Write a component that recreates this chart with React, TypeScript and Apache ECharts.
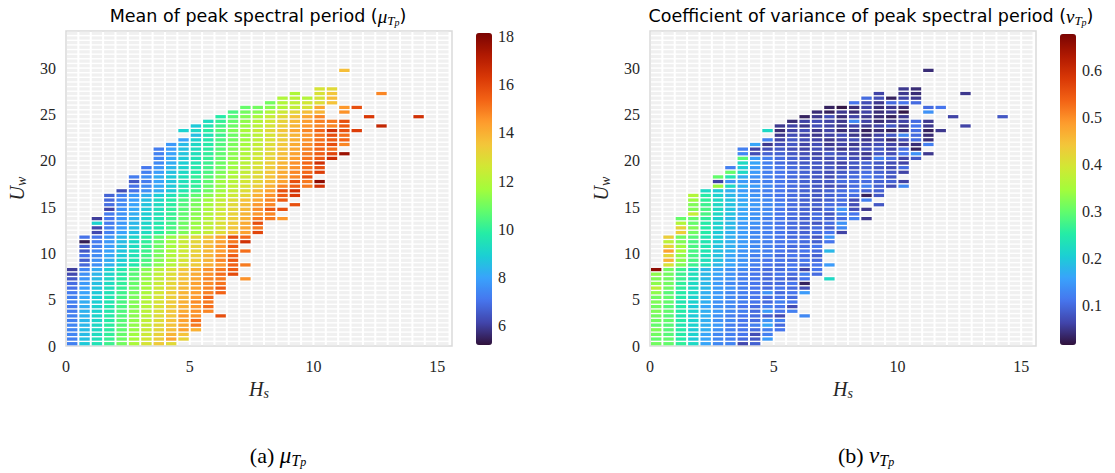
import React, { useEffect, useRef } from "react";
import * as echarts from "echarts";

// ---- binning of the (Hs, Uw) plane ----
const HS_BIN = 0.5;
const UW_BIN = 0.5;
const N_HS_BINS = 31;
const N_UW_BINS = 68;

// first occupied Hs-bin index for every Uw row (row j = Uw bin j)
const rowStart: number[] = [
  0, 0, 0, 0, 0, 0, 0, 0, 0, 0, 0, 0, 0, 0, 0, 0, 0,
  1, 1, 1, 1, 1, 1, 1,
  2, 2, 2, 2,
  3, 3, 3, 3, 3,
  4,
  5, 5, 5,
  6, 6,
  7, 7, 7, 7,
  8, 9, 10, 9, 10, 11, 12, 13, 14, 16, 17, 18, 20,
  0, 0, 0,
  22,
];

// mean of peak spectral period, one array per Uw row (null = empty bin)
const muRows: (number | null)[][] = [
  [7.3, 8.8, 9.5, 10.2, 11.0, 11.8, 12.7, 13.4, 13.0],
  [7.3, 8.6, 9.4, 10.1, 10.9, 11.7, 12.6, 13.3, 14.2, 13.2],
  [7.4, 8.5, 9.3, 10.0, 10.8, 11.6, 12.5, 13.2, 13.9, 13.6],
  [7.4, 8.5, 9.2, 9.9, 10.7, 11.5, 12.4, 13.1, 13.7, 14.3, 14.0],
  [7.4, 8.4, 9.2, 9.9, 10.6, 11.4, 12.3, 13.0, 13.6, 14.2, 15.0],
  [7.3, 8.4, 9.1, 9.8, 10.6, 11.4, 12.2, 12.9, 13.6, 14.3, 15.2],
  [7.3, 8.3, 9.1, 9.8, 10.5, 11.3, 12.1, 12.9, 13.5, 14.4, 14.6, null, 15.8],
  [7.2, 8.3, 9.0, 9.7, 10.5, 11.3, 12.1, 12.8, 13.5, 14.1, 14.6, 14.8],
  [7.2, 8.2, 9.0, 9.7, 10.4, 11.2, 12.0, 12.8, 13.4, 14.0, 14.5, 15.2],
  [7.3, 8.2, 8.9, 9.6, 10.4, 11.2, 12.0, 12.7, 13.4, 14.0, 14.7, 15.0],
  [7.3, 8.1, 8.9, 9.6, 10.3, 11.1, 11.9, 12.7, 13.3, 13.9, 14.5, 15.3],
  [7.2, 8.0, 8.8, 9.5, 10.2, 11.0, 11.8, 12.6, 13.3, 13.9, 14.4, 14.9, 15.4],
  [7.0, 7.9, 8.7, 9.4, 10.1, 10.9, 11.7, 12.5, 13.2, 13.8, 14.3, 14.8, 15.5],
  [6.9, 7.8, 8.6, 9.3, 10.0, 10.8, 11.6, 12.4, 13.1, 13.7, 14.3, 14.7, 15.1],
  [6.5, 7.7, 8.5, 9.2, 9.9, 10.7, 11.5, 12.3, 13.0, 13.6, 14.2, 14.8, 15.0, null, 14.6],
  [6.2, 7.6, 8.4, 9.1, 9.8, 10.6, 11.4, 12.2, 12.9, 13.6, 14.1, 14.6, 15.2, 15.9],
  [6.0, 7.4, 8.2, 9.0, 9.7, 10.5, 11.3, 12.1, 12.8, 13.5, 14.0, 14.6, 15.0, 15.5],
  [6.8, 7.6, 8.3, 9.0, 9.7, 10.5, 11.3, 12.0, 12.8, 13.4, 14.0, 14.5, 15.4, 15.0],
  [6.6, 7.6, 8.2, 8.9, 9.6, 10.4, 11.2, 11.9, 12.7, 13.4, 13.9, 14.8, 15.6],
  [7.0, 7.5, 8.1, 8.8, 9.5, 10.3, 11.1, 11.9, 12.6, 13.3, 13.9, 14.6, 15.5],
  [6.5, 7.4, 8.0, 8.7, 9.4, 10.2, 11.0, 11.8, 12.5, 13.2, 13.8, 14.4, 15.0, 15.2],
  [6.6, 7.3, 7.9, 8.6, 9.3, 10.1, 10.9, 11.7, 12.5, 13.2, 13.8, 14.5, 15.6],
  [5.4, 7.2, 7.8, 8.5, 9.2, 10.0, 10.8, 11.6, 12.4, 13.1, 13.7, 14.3, 15.0, 16.5],
  [7.0, 7.1, 7.7, 8.4, 9.1, 9.9, 10.7, 11.5, 12.3, 13.0, 13.6, 14.3, 15.8, 15.3],
  [6.2, 7.3, 8.0, 8.6, 9.3, 9.9, 10.5, 11.1, 11.7, 12.3, 12.9, 13.6, 14.3, 16.0],
  [6.2, 7.3, 7.9, 8.5, 9.2, 9.8, 10.4, 11.0, 11.6, 12.2, 12.8, 13.5, 14.2, 15.0],
  [9.0, 7.2, 7.8, 8.4, 9.1, 9.7, 10.3, 10.9, 11.5, 12.1, 12.8, 13.4, 14.1, 15.8],
  [6.0, 7.1, 7.7, 8.3, 9.0, 9.6, 10.2, 10.8, 11.4, 12.0, 12.7, 13.3, 14.0, 15.0, 15.0, 14.5],
  [7.2, 7.7, 8.2, 8.9, 9.5, 10.1, 10.7, 11.3, 11.9, 12.6, 13.2, 13.9, 14.5, 14.8],
  [6.1, 7.6, 8.1, 8.8, 9.4, 10.0, 10.6, 11.2, 11.8, 12.5, 13.1, 13.8, 14.7, 15.6, 15.8],
  [6.9, 7.5, 8.0, 8.7, 9.3, 9.9, 10.5, 11.1, 11.7, 12.4, 13.0, 13.7, 14.5, 14.8, null, 15.8],
  [6.8, 7.4, 7.9, 8.6, 9.2, 9.8, 10.4, 11.0, 11.6, 12.3, 12.9, 13.6, 14.2, 14.8, 15.6],
  [6.7, 7.3, 7.8, 8.3, 8.9, 9.5, 10.1, 10.7, 11.3, 11.9, 12.5, 13.1, 14.0, 14.6, 15.5, 16.3],
  [6.3, 7.0, 7.6, 8.2, 8.8, 9.6, 10.2, 10.9, 11.6, 12.3, 12.9, 13.8, 14.3, 15.8, 16.5],
  [7.0, 7.5, 8.1, 8.8, 9.5, 10.0, 10.8, 11.5, 12.2, 12.8, 13.3, 14.0, 14.8, 15.5, 15.0, 16.5],
  [6.5, 7.2, 8.0, 8.7, 9.4, 10.0, 10.7, 11.6, 12.0, 12.6, 13.1, 13.7, 14.3, 15.8, 15.0, 17.8],
  [7.2, 7.6, 8.2, 8.8, 9.4, 10.0, 10.6, 11.3, 11.9, 12.5, 13.0, 13.6, 14.2, 14.8, 15.8],
  [7.3, 7.9, 8.6, 9.2, 9.8, 10.4, 11.1, 11.7, 12.3, 12.9, 13.5, 14.1, 14.8, 15.3, 16.2],
  [7.1, 7.7, 8.4, 9.0, 9.7, 10.3, 11.0, 11.6, 12.2, 12.8, 13.4, 14.0, 14.6, 15.2, 15.8],
  [7.5, 8.2, 8.9, 9.6, 10.2, 10.9, 11.5, 12.1, 12.7, 13.3, 13.9, 14.6, 15.3, 16.5],
  [7.4, 8.1, 8.8, 9.5, 10.1, 10.8, 11.4, 12.0, 12.6, 13.2, 13.8, 14.4, 15.1, 15.6, 16.6],
  [7.3, 8.0, 8.7, 9.4, 10.0, 10.7, 11.3, 11.9, 12.5, 13.1, 13.7, 14.3, 15.0, 15.5, 16.0, 17.6],
  [7.2, 7.9, 8.6, 9.3, 9.9, 10.6, 11.2, 11.8, 12.4, 13.0, 13.6, 14.2, 14.8, 15.4, 15.2],
  [7.8, 8.5, 9.2, 9.8, 10.5, 11.1, 11.7, 12.3, 12.9, 13.5, 14.1, 14.7, 15.3, 15.8, 14.8],
  [8.0, 9.0, 9.7, 10.4, 11.0, 11.6, 12.2, 12.8, 13.4, 14.0, 14.6, 15.2, 15.6, 15.4],
  [8.6, 9.5, 10.2, 10.9, 11.5, 12.1, 12.7, 13.3, 13.9, 14.5, 15.1, 15.8, 15.2],
  [9.0, 9.2, 9.9, 10.6, 11.2, 11.8, 12.4, 13.0, 13.6, 14.2, 14.8, 15.4, 16.5, 15.8, 16.2],
  [8.8, 9.6, 10.3, 10.9, 11.5, 12.1, 12.7, 13.3, 13.9, 14.5, 14.8, 14.8, 15.6, null, null, 16.8],
  [9.3, 10.1, 10.8, 11.4, 12.0, 12.6, 13.2, 13.8, 14.4, 14.9, 15.0, 15.8],
  [9.8, 10.6, 11.2, 11.8, 12.4, 13.0, 13.6, 14.2, 14.8, null, null, null, 16.3, null, null, null, 16.5],
  [10.4, 11.0, 11.3, 11.9, 12.5, 13.1, 13.7, 13.9, null, 14.6],
  [10.8, 11.0, 11.3, 11.9, 12.3, 12.7, 14.2, null, 14.5, 15.8],
  [11.0, 11.9, 12.2, 12.6, 12.9, 13.6],
  [11.9, 12.1, 12.0, 12.7, 13.7],
  [11.9, null, 12.8, 13.5, null, null, null, 14.8],
  [12.7, 13.0],
  [],
  [],
  [],
  [13.7],
];

// coefficient of variance of peak spectral period, same bins
const nuRows: (number | null)[][] = [
  [0.31, 0.30, 0.26, 0.22, 0.16, 0.13, 0.125, 0.065, 0.09],
  [0.30, 0.30, 0.25, 0.20, 0.16, 0.13, 0.12, 0.10, 0.08, 0.15],
  [0.31, 0.29, 0.25, 0.21, 0.16, 0.13, 0.12, 0.11, 0.07, 0.12],
  [0.32, 0.29, 0.25, 0.20, 0.17, 0.14, 0.12, 0.11, 0.10, 0.12, 0.11],
  [0.30, 0.29, 0.24, 0.21, 0.17, 0.15, 0.12, 0.11, 0.12, 0.16, 0.10],
  [0.31, 0.30, 0.25, 0.21, 0.17, 0.14, 0.13, 0.11, 0.10, 0.14, 0.12],
  [0.31, 0.29, 0.24, 0.20, 0.17, 0.14, 0.12, 0.11, 0.10, 0.09, 0.07, null, 0.13],
  [0.32, 0.30, 0.25, 0.21, 0.17, 0.15, 0.13, 0.12, 0.10, 0.15, 0.11, 0.12],
  [0.31, 0.29, 0.25, 0.20, 0.16, 0.14, 0.13, 0.11, 0.10, 0.12, 0.11, 0.07],
  [0.32, 0.30, 0.24, 0.21, 0.17, 0.14, 0.13, 0.12, 0.11, 0.10, 0.12, 0.11],
  [0.31, 0.30, 0.25, 0.21, 0.17, 0.15, 0.13, 0.12, 0.11, 0.10, 0.11, 0.10],
  [0.33, 0.29, 0.25, 0.22, 0.17, 0.15, 0.13, 0.12, 0.11, 0.14, 0.10, 0.11, 0.15],
  [0.37, 0.31, 0.26, 0.22, 0.18, 0.15, 0.14, 0.12, 0.11, 0.10, 0.11, 0.10, 0.07],
  [0.33, 0.31, 0.26, 0.22, 0.18, 0.15, 0.13, 0.12, 0.11, 0.10, 0.10, 0.11, 0.03],
  [0.32, 0.31, 0.27, 0.23, 0.18, 0.15, 0.14, 0.12, 0.11, 0.10, 0.10, 0.09, 0.11, null, 0.22],
  [0.33, 0.31, 0.27, 0.23, 0.18, 0.16, 0.14, 0.12, 0.11, 0.10, 0.11, 0.10, 0.12, 0.10],
  [0.66, 0.31, 0.27, 0.22, 0.18, 0.16, 0.14, 0.13, 0.11, 0.10, 0.10, 0.11, 0.06, 0.11],
  [0.40, 0.32, 0.27, 0.23, 0.18, 0.16, 0.14, 0.12, 0.11, 0.10, 0.11, 0.10, 0.11, 0.15],
  [0.46, 0.33, 0.28, 0.23, 0.19, 0.16, 0.14, 0.12, 0.11, 0.11, 0.10, 0.11, 0.10],
  [0.42, 0.33, 0.28, 0.23, 0.19, 0.16, 0.14, 0.12, 0.12, 0.10, 0.11, 0.10, 0.09],
  [0.48, 0.35, 0.28, 0.24, 0.19, 0.17, 0.14, 0.13, 0.12, 0.11, 0.10, 0.11, 0.10, 0.18],
  [0.42, 0.34, 0.28, 0.24, 0.19, 0.17, 0.15, 0.13, 0.12, 0.11, 0.10, 0.10, 0.11],
  [0.37, 0.32, 0.28, 0.24, 0.20, 0.17, 0.15, 0.13, 0.12, 0.11, 0.11, 0.10, 0.09, 0.11],
  [0.43, 0.31, 0.29, 0.24, 0.20, 0.17, 0.15, 0.13, 0.12, 0.11, 0.10, 0.10, 0.08, 0.14],
  [0.43, 0.31, 0.25, 0.20, 0.17, 0.15, 0.13, 0.12, 0.11, 0.10, 0.09, 0.10, 0.11, 0.06],
  [0.42, 0.32, 0.25, 0.21, 0.18, 0.15, 0.13, 0.12, 0.11, 0.10, 0.09, 0.10, 0.09, 0.13],
  [0.36, 0.30, 0.25, 0.21, 0.18, 0.15, 0.14, 0.12, 0.11, 0.10, 0.09, 0.08, 0.10, 0.14],
  [0.30, 0.30, 0.26, 0.21, 0.18, 0.16, 0.14, 0.12, 0.11, 0.10, 0.09, 0.10, 0.09, 0.10, 0.12, 0.05],
  [0.38, 0.28, 0.22, 0.19, 0.16, 0.14, 0.13, 0.11, 0.10, 0.09, 0.10, 0.08, 0.12, 0.11],
  [0.32, 0.28, 0.22, 0.19, 0.16, 0.14, 0.13, 0.11, 0.10, 0.09, 0.08, 0.10, 0.14, 0.07, 0.05],
  [0.32, 0.27, 0.22, 0.19, 0.17, 0.15, 0.13, 0.12, 0.10, 0.09, 0.09, 0.10, 0.10, 0.07, null, 0.08],
  [0.34, 0.26, 0.22, 0.19, 0.16, 0.14, 0.13, 0.11, 0.10, 0.09, 0.08, 0.09, 0.10, 0.07, 0.12],
  [0.36, 0.25, 0.21, 0.18, 0.16, 0.14, 0.12, 0.11, 0.10, 0.09, 0.08, 0.09, 0.10, 0.10, 0.03, 0.08],
  [0.22, 0.20, 0.17, 0.15, 0.13, 0.12, 0.11, 0.10, 0.09, 0.08, 0.09, 0.10, 0.11, 0.09, 0.09],
  [0.34, 0.22, 0.17, 0.15, 0.13, 0.11, 0.10, 0.09, 0.08, 0.07, 0.08, 0.10, 0.12, 0.09, 0.07, 0.13],
  [0.06, 0.14, 0.15, 0.13, 0.12, 0.11, 0.10, 0.09, 0.08, 0.08, 0.10, 0.10, 0.10, 0.09, 0.09, 0.06],
  [0.30, 0.24, 0.17, 0.14, 0.12, 0.11, 0.10, 0.09, 0.08, 0.07, 0.09, 0.10, 0.11, 0.10, 0.08],
  [0.30, 0.22, 0.15, 0.12, 0.11, 0.10, 0.09, 0.08, 0.07, 0.08, 0.09, 0.10, 0.09, 0.08, 0.06],
  [0.12, 0.20, 0.15, 0.12, 0.11, 0.10, 0.09, 0.08, 0.08, 0.07, 0.08, 0.09, 0.08, 0.07, 0.10],
  [0.22, 0.16, 0.12, 0.10, 0.09, 0.08, 0.08, 0.07, 0.06, 0.08, 0.09, 0.08, 0.07, 0.06],
  [0.29, 0.15, 0.12, 0.10, 0.09, 0.08, 0.07, 0.07, 0.08, 0.07, 0.06, 0.12, 0.10, 0.06, 0.08],
  [0.13, 0.07, 0.09, 0.09, 0.08, 0.07, 0.06, 0.08, 0.07, 0.06, 0.05, 0.08, 0.07, 0.11, 0.14, 0.05],
  [0.12, 0.06, 0.07, 0.08, 0.07, 0.06, 0.07, 0.06, 0.05, 0.06, 0.07, 0.08, 0.06, 0.10, 0.03],
  [0.16, 0.05, 0.07, 0.08, 0.06, 0.07, 0.05, 0.06, 0.05, 0.06, 0.07, 0.06, 0.05, 0.04, 0.12],
  [0.12, 0.06, 0.08, 0.07, 0.06, 0.05, 0.06, 0.07, 0.05, 0.06, 0.04, 0.07, 0.10, 0.04],
  [0.05, 0.07, 0.06, 0.05, 0.06, 0.07, 0.05, 0.04, 0.06, 0.08, 0.13, 0.10, 0.04],
  [0.22, 0.04, 0.06, 0.07, 0.05, 0.06, 0.04, 0.05, 0.03, 0.04, 0.03, 0.04, 0.10, 0.03, 0.05],
  [0.05, 0.06, 0.05, 0.07, 0.06, 0.05, 0.06, 0.05, 0.06, 0.08, 0.05, 0.11, 0.05, null, null, 0.06],
  [0.04, 0.06, 0.07, 0.06, 0.05, 0.13, 0.06, 0.04, 0.05, 0.06, 0.10, 0.05],
  [0.03, 0.05, 0.07, 0.04, 0.06, 0.05, 0.04, 0.03, 0.05, null, null, null, 0.06, null, null, null, 0.08],
  [0.04, 0.03, 0.05, 0.04, 0.06, 0.04, 0.05, 0.02, null, 0.14],
  [0.03, 0.02, 0.04, 0.06, 0.04, 0.05, 0.04, null, 0.10, 0.11],
  [0.11, 0.07, 0.05, 0.10, 0.11, 0.10],
  [0.10, 0.07, 0.03, 0.06, 0.05],
  [0.06, null, 0.05, 0.04, null, null, null, 0.05],
  [0.05, 0.04],
  [],
  [],
  [],
  [0.04],
];

// axes / colour scales
const hsRange = [0, 15.6];
const uwRange = [0, 34];
const hsTicks = [0, 5, 10, 15];
const uwTicks = [0, 5, 10, 15, 20, 25, 30];
const muRange = [5.2, 18.15];
const muTicks = [6, 8, 10, 12, 14, 16, 18];
const nuRange = [0.015, 0.677];
const nuTicks = [0.1, 0.2, 0.3, 0.4, 0.5, 0.6];

const TURBO = [
  "#30123b", "#4145ab", "#4675ed", "#39a2fc", "#1bcfd4", "#24eca6", "#61fc6c", "#a4fc3b",
  "#d1e834", "#f3c63a", "#fe9b2d", "#f36315", "#d93806", "#b11901", "#7a0402",
];

const SERIF = "Liberation Serif";
const SANS = "DejaVu Sans";
const INK = "#262626";

function toCells(rows: (number | null)[][]) {
  const out: number[][] = [];
  rows.forEach((row, j) =>
    row.forEach((v, i) => {
      if (v !== null && v !== undefined) {
        out.push([(rowStart[j] + i + 0.5) * HS_BIN, (j + 0.5) * UW_BIN, v]);
      }
    })
  );
  return out;
}

function allBins() {
  const out: number[][] = [];
  for (let i = 0; i < N_HS_BINS; i++)
    for (let j = 0; j < N_UW_BINS; j++) out.push([(i + 0.5) * HS_BIN, (j + 0.5) * UW_BIN]);
  return out;
}

const cellRenderer = (fill?: string) => (_params: any, api: any) => {
  const x = api.value(0);
  const y = api.value(1);
  const a = api.coord([x - HS_BIN / 2, y + UW_BIN / 2]);
  const b = api.coord([x + HS_BIN / 2, y - UW_BIN / 2]);
  return {
    type: "rect",
    shape: { x: a[0] + 1, y: a[1] + 0.7, width: b[0] - a[0] - 2, height: b[1] - a[1] - 1.4 },
    style: { fill: fill ?? api.visual("color") },
  };
};

const subRich = {
  i: { fontFamily: SERIF, fontStyle: "italic", fontSize: 20, lineHeight: 22, color: INK },
  s: { fontFamily: SERIF, fontStyle: "italic", fontSize: 14, lineHeight: 8, verticalAlign: "bottom", color: INK },
};

const titleRich = {
  t: { fontFamily: SANS, fontSize: 17.5, lineHeight: 22, color: INK },
  m: { fontFamily: SERIF, fontStyle: "italic", fontSize: 19, lineHeight: 22, color: INK },
  s: { fontFamily: SERIF, fontStyle: "italic", fontSize: 13, lineHeight: 8, verticalAlign: "bottom", color: INK },
  ss: { fontFamily: SERIF, fontStyle: "italic", fontSize: 10, lineHeight: 2, verticalAlign: "bottom", color: INK },
};

const capRich = {
  r: { fontFamily: SERIF, fontSize: 22, lineHeight: 26, color: INK },
  m: { fontFamily: SERIF, fontStyle: "italic", fontSize: 23, lineHeight: 26, color: INK },
  s: { fontFamily: SERIF, fontStyle: "italic", fontSize: 16, lineHeight: 9, verticalAlign: "bottom", color: INK },
  ss: { fontFamily: SERIF, fontStyle: "italic", fontSize: 12, lineHeight: 2, verticalAlign: "bottom", color: INK },
};

function plotAxes(gridIndex: number) {
  const x = {
    gridIndex,
    type: "value",
    min: hsRange[0],
    max: hsRange[1],
    axisLine: { show: false },
    axisTick: { show: false },
    splitLine: { show: false },
    axisLabel: { customValues: hsTicks, fontFamily: SERIF, fontSize: 16, color: INK, margin: 12 },
    name: "{i|H}{s|s}",
    nameLocation: "middle",
    nameGap: 32,
    nameTextStyle: { rich: subRich },
  };
  const y = {
    gridIndex,
    type: "value",
    min: uwRange[0],
    max: uwRange[1],
    axisLine: { show: false },
    axisTick: { show: false },
    splitLine: { show: false },
    axisLabel: { customValues: uwTicks, fontFamily: SERIF, fontSize: 16, color: INK, margin: 10 },
    name: "{i|U}{s|w}",
    nameLocation: "middle",
    nameGap: 38,
    nameTextStyle: { rich: subRich },
  };
  return { x, y };
}

function barAxes(gridIndex: number, range: number[], ticks: number[]) {
  const x = { gridIndex, type: "value", show: false, min: 0, max: 1 };
  const y = {
    gridIndex,
    type: "value",
    position: "right",
    min: range[0],
    max: range[1],
    axisLine: { show: false },
    splitLine: { show: false },
    axisTick: { show: true, customValues: ticks, length: 4, lineStyle: { color: "#333", width: 1 } },
    axisLabel: { customValues: ticks, fontFamily: SERIF, fontSize: 16, color: INK, margin: 6 },
  };
  return { x, y };
}

export default function App() {
  const ref = useRef<HTMLDivElement>(null);

  useEffect(() => {
    if (!ref.current) return;
    const chart = echarts.init(ref.current, undefined, { renderer: "svg" });
    const bg = allBins();
    const pa = plotAxes(0);
    const pb = plotAxes(1);
    const ba = barAxes(2, muRange, muTicks);
    const bb = barAxes(3, nuRange, nuTicks);

    const gridStyle = { show: true, borderColor: "#dadada", borderWidth: 1.5, backgroundColor: "#ffffff" };

    chart.setOption({
      animation: false,
      grid: [
        { left: 66, top: 31, width: 386, height: 315, ...gridStyle },
        { left: 650, top: 31, width: 386, height: 315, ...gridStyle },
        { left: 476, top: 33, width: 16, height: 312 },
        { left: 1060, top: 34, width: 16, height: 311 },
      ],
      xAxis: [pa.x, pb.x, ba.x, bb.x],
      yAxis: [pa.y, pb.y, ba.y, bb.y],
      visualMap: [
        {
          type: "continuous",
          seriesIndex: 1,
          dimension: 2,
          min: muRange[0],
          max: muRange[1],
          inRange: { color: TURBO },
          calculable: false,
          orient: "vertical",
          left: 476,
          top: 33,
          itemWidth: 16,
          itemHeight: 312,
          padding: 0,
          hoverLink: false,
        },
        {
          type: "continuous",
          seriesIndex: 3,
          dimension: 2,
          min: nuRange[0],
          max: nuRange[1],
          inRange: { color: TURBO },
          calculable: false,
          orient: "vertical",
          left: 1060,
          top: 34,
          itemWidth: 16,
          itemHeight: 311,
          padding: 0,
          hoverLink: false,
        },
      ],
      series: [
        {
          type: "custom",
          xAxisIndex: 0,
          yAxisIndex: 0,
          silent: true,
          clip: true,
          data: bg,
          renderItem: cellRenderer("#f0f0f0"),
        },
        {
          type: "custom",
          xAxisIndex: 0,
          yAxisIndex: 0,
          clip: true,
          data: toCells(muRows),
          encode: { x: 0, y: 1 },
          renderItem: cellRenderer(),
        },
        {
          type: "custom",
          xAxisIndex: 1,
          yAxisIndex: 1,
          silent: true,
          clip: true,
          data: bg,
          renderItem: cellRenderer("#f0f0f0"),
        },
        {
          type: "custom",
          xAxisIndex: 1,
          yAxisIndex: 1,
          clip: true,
          data: toCells(nuRows),
          encode: { x: 0, y: 1 },
          renderItem: cellRenderer(),
        },
      ],
      graphic: [
        {
          type: "text",
          x: 258,
          y: 16,
          style: {
            text: "{t|Mean of peak spectral period (}{m|μ}{s|T}{ss|p}{t|)}",
            rich: titleRich,
            align: "center",
            verticalAlign: "middle",
          },
        },
        {
          type: "text",
          x: 871,
          y: 16,
          style: {
            text: "{t|Coefficient of variance of peak spectral period (}{m|ν}{s|T}{ss|p}{t|)}",
            rich: titleRich,
            align: "center",
            verticalAlign: "middle",
          },
        },
        {
          type: "text",
          x: 278,
          y: 455,
          style: { text: "{r|(a) }{m|μ}{s|T}{ss|p}", rich: capRich, align: "center", verticalAlign: "middle" },
        },
        {
          type: "text",
          x: 866,
          y: 455,
          style: { text: "{r|(b) }{m|ν}{s|T}{ss|p}", rich: capRich, align: "center", verticalAlign: "middle" },
        },
      ],
    });

    return () => chart.dispose();
  }, []);

  return (
    <div
      ref={ref}
      style={{ position: "absolute", left: 0, top: 0, width: 1115, height: 473 }}
    />
  );
}
